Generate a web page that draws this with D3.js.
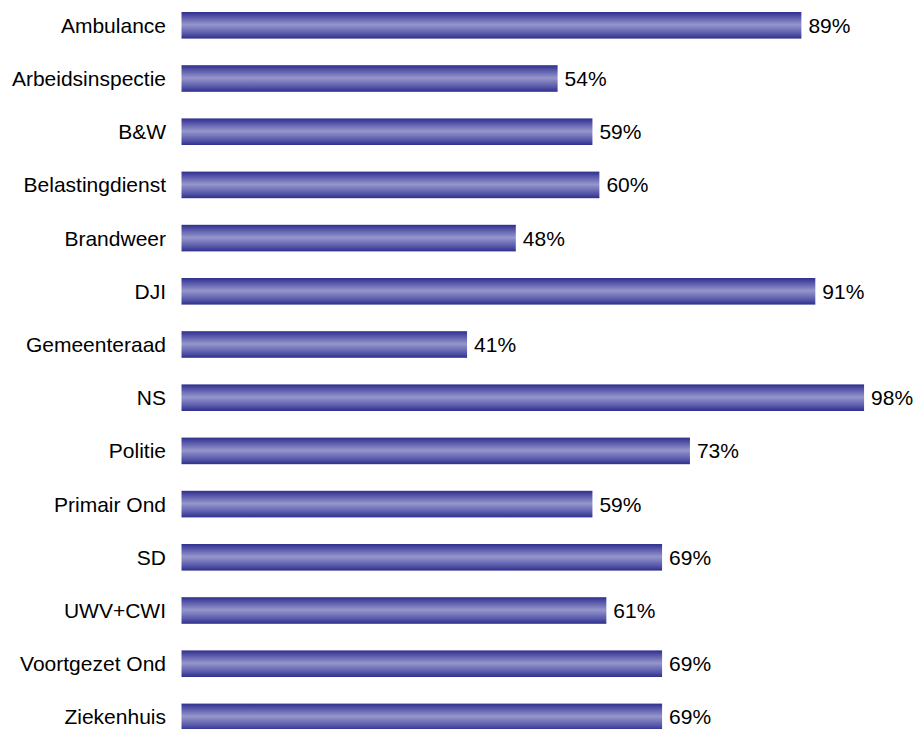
<!DOCTYPE html>
<html>
<head>
<meta charset="utf-8">
<script src="https://cdn.jsdelivr.net/npm/d3@7"></script>
<style>
  html, body { margin: 0; padding: 0; background: #ffffff; }
  svg { display: block; }
</style>
</head>
<body>
<svg id="chart" width="916" height="729"></svg>
<script>
const categories = ["Ambulance", "Arbeidsinspectie", "B&W", "Belastingdienst", "Brandweer", "DJI", "Gemeenteraad", "NS", "Politie", "Primair Ond", "SD", "UWV+CWI", "Voortgezet Ond", "Ziekenhuis"];
const values = [89, 54, 59, 60, 48, 91, 41, 98, 73, 59, 69, 61, 69, 69];

const svg = d3.select("#chart");
const x = d3.scaleLinear().domain([0, 100]).range([181.5, 878]);
const y = d3.scaleBand().domain(categories).range([-14.6, 756.8]).paddingInner(0.5).paddingOuter(0.5);

const defs = svg.append("defs");
const grad = defs.append("linearGradient").attr("id", "barGrad")
  .attr("x1", 0).attr("y1", 0).attr("x2", 0).attr("y2", 1);
grad.append("stop").attr("offset", "0%").attr("stop-color", "#2f2f8e");
grad.append("stop").attr("offset", "20%").attr("stop-color", "#5a5aac");
grad.append("stop").attr("offset", "48%").attr("stop-color", "#9696cc");
grad.append("stop").attr("offset", "80%").attr("stop-color", "#5a5aac");
grad.append("stop").attr("offset", "100%").attr("stop-color", "#2f2f8e");

const data = categories.map((c, i) => ({ c, v: values[i] }));

svg.append("g").selectAll("rect").data(data).join("rect")
  .attr("x", x(0))
  .attr("y", d => y(d.c))
  .attr("width", d => x(d.v) - x(0))
  .attr("height", y.bandwidth())
  .attr("fill", "url(#barGrad)");

const font = "'Liberation Sans', Arial, sans-serif";

svg.append("g").selectAll("text").data(data).join("text")
  .attr("x", 166)
  .attr("y", d => y(d.c) + y.bandwidth() / 2)
  .attr("dy", "0.36em")
  .attr("text-anchor", "end")
  .attr("font-family", font)
  .attr("font-size", 21)
  .attr("fill", "#000")
  .text(d => d.c);

svg.append("g").selectAll("text").data(data).join("text")
  .attr("x", d => x(d.v) + 7)
  .attr("y", d => y(d.c) + y.bandwidth() / 2)
  .attr("dy", "0.36em")
  .attr("font-family", font)
  .attr("font-size", 21)
  .attr("fill", "#000")
  .text(d => d.v + "%");
</script>
</body>
</html>
